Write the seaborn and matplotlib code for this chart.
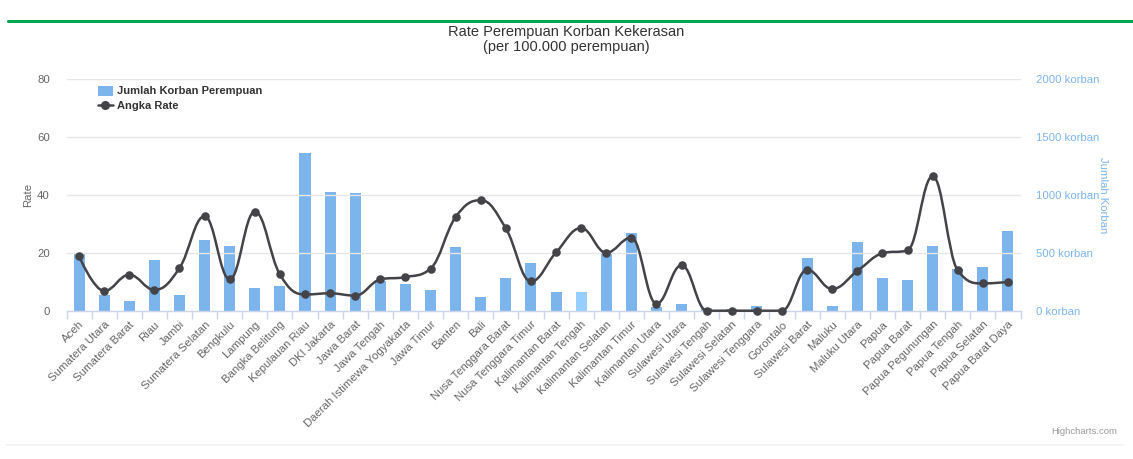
import numpy as np
import pandas as pd
import matplotlib
matplotlib.use("Agg")
import matplotlib.pyplot as plt
from matplotlib.path import Path
from matplotlib.patches import PathPatch
from matplotlib.lines import Line2D
from matplotlib.patches import Patch
import seaborn as sns

provinces = [
    "Aceh", "Sumatera Utara", "Sumatera Barat", "Riau", "Jambi", "Sumatera Selatan",
    "Bengkulu", "Lampung", "Bangka Belitung", "Kepulauan Riau", "DKI Jakarta",
    "Jawa Barat", "Jawa Tengah", "Daerah Istimewa Yogyakarta", "Jawa Timur", "Banten",
    "Bali", "Nusa Tenggara Barat", "Nusa Tenggara Timur", "Kalimantan Barat",
    "Kalimantan Tengah", "Kalimantan Selatan", "Kalimantan Timur", "Kalimantan Utara",
    "Sulawesi Utara", "Sulawesi Tengah", "Sulawesi Selatan", "Sulawesi Tenggara",
    "Gorontalo", "Sulawesi Barat", "Maluku", "Maluku Utara", "Papua", "Papua Barat",
    "Papua Pegunungan", "Papua Tengah", "Papua Selatan", "Papua Barat Daya",
]
jumlah_korban = [
    488, 138, 83, 442, 138, 614, 562, 195, 218, 1360, 1027, 1016, 255, 232, 178, 554,
    121, 287, 410, 166, 166, 508, 669, 32, 63, 22, 18, 43, 4, 453, 43, 597, 284, 267,
    560, 364, 376, 686,
]
angka_rate = [
    18.9, 6.9, 12.5, 7.3, 14.8, 32.7, 10.9, 34.3, 12.6, 5.7, 6.1, 5.3, 10.9, 11.7, 14.6,
    32.4, 38.2, 28.5, 10.2, 20.2, 28.6, 20.1, 25.3, 2.5, 15.8, 0.1, 0.1, 0.1, 0.1, 14.2,
    7.6, 13.8, 19.9, 20.9, 46.5, 14.0, 9.5, 10.0,
]
left_ticks = [0, 20, 40, 60, 80]
right_ticks = [0, 500, 1000, 1500, 2000]

df = pd.DataFrame({"provinsi": provinces, "korban": jumlah_korban, "rate": angka_rate})

sns.set_theme(style="white")
plt.rcParams["font.family"] = ["Liberation Sans", "DejaVu Sans"]

W, H = 1133, 459
fig = plt.figure(figsize=(W / 100, H / 100), dpi=100)
L, R, T, B = 66.5, 1020.5, 79, 311
ax_r = fig.add_axes([L / W, 1 - B / H, (R - L) / W, (B - T) / H])
ax = ax_r.twinx()  # left rate axis drawn on top
ax.yaxis.set_label_position("left")
ax.yaxis.tick_left()
ax_r.yaxis.set_label_position("right")
ax_r.yaxis.tick_right()

bar_color = "#7cb5ec"
hover_color = "#95ceff"
palette = [hover_color if p == "Kalimantan Tengah" else bar_color for p in provinces]
sns.barplot(data=df, x="provinsi", y="korban", hue="provinsi", palette=palette,
            legend=False, width=0.44, ax=ax_r, saturation=1, linewidth=0)

# spline (Highcharts style) through the rate points
xs = np.arange(len(angka_rate), dtype=float)
ys = np.array(angka_rate, dtype=float)
n = len(xs)
lcx, lcy, rcx, rcy = xs.copy(), ys.copy(), xs.copy(), ys.copy()
s = 1.5
d = s + 1
for i in range(1, n - 1):
    px, py = xs[i], ys[i]
    lx, ly = xs[i - 1], ys[i - 1]
    nx, ny = xs[i + 1], ys[i + 1]
    a = (s * px + lx) / d
    b = (s * py + ly) / d
    c = (s * px + nx) / d
    e = (s * py + ny) / d
    corr = (e - b) * (c - px) / (c - a) + py - e
    b += corr
    e += corr
    if b > ly and b > py:
        b = max(ly, py); e = 2 * py - b
    elif b < ly and b < py:
        b = min(ly, py); e = 2 * py - b
    if e > ny and e > py:
        e = max(ny, py); b = 2 * py - e
    elif e < ny and e < py:
        e = min(ny, py); b = 2 * py - e
    lcx[i], lcy[i], rcx[i], rcy[i] = a, b, c, e
verts = [(xs[0], ys[0])]
codes = [Path.MOVETO]
for i in range(1, n):
    verts += [(rcx[i - 1], rcy[i - 1]), (lcx[i], lcy[i]), (xs[i], ys[i])]
    codes += [Path.CURVE4] * 3
line_color = "#434348"
ax.add_patch(PathPatch(Path(verts, codes), facecolor="none", edgecolor=line_color,
                       lw=1.8, zorder=3, clip_on=False))
sns.scatterplot(x=xs, y=ys, ax=ax, color=line_color, s=38, edgecolor=line_color,
                linewidth=0, zorder=4, clip_on=False)

# axes limits & ticks
ax.set_xlim(-0.5, n - 0.5)
ax_r.set_xlim(-0.5, n - 0.5)
ax.set_ylim(0, 80)
ax_r.set_ylim(0, 2000)
ax.set_yticks(left_ticks)
ax.set_yticklabels([str(t) for t in left_ticks])
ax_r.set_yticks(right_ticks)
ax_r.set_yticklabels([f"{t} korban" for t in right_ticks])
ax.tick_params(axis="y", length=0, pad=12, labelsize=8.2, labelcolor="#666666")
ax_r.tick_params(axis="y", length=0, pad=11, labelsize=8.2, labelcolor="#7cb5ec")
for lab in ax_r.get_yticklabels():
    lab.set_horizontalalignment("left")

ax.set_ylabel("Rate", fontsize=8.2, color="#666666", labelpad=3)

ax_r.grid(False)
ax.grid(False)
for t in left_ticks[1:]:
    ax.axhline(t, color="#e6e6e6", lw=1, zorder=0)

# x axis: ticks at boundaries, labels centred & rotated
ax.set_xticks([])
ax_r.set_xticks(xs)
ax_r.set_xticklabels(provinces, rotation=45, ha="right", rotation_mode="anchor",
                     fontsize=8.2, color="#666666")
ax_r.tick_params(axis="x", length=0, pad=6)
ax_r.set_xlabel("")
ax_r.set_ylabel("Jumlah Korban", fontsize=8.2, color="#7cb5ec", rotation=270,
                labelpad=-1, va="bottom")
ax_r.set_xticks(np.arange(-0.5, n, 1.0), minor=True)
ax_r.tick_params(axis="x", which="minor", length=6, width=1, color="#ccd6eb",
                 direction="out", bottom=True)

for a in (ax, ax_r):
    for sp in a.spines.values():
        sp.set_visible(False)
ax_r.spines["bottom"].set_visible(True)
ax_r.spines["bottom"].set_color("#ccd6eb")
ax_r.spines["bottom"].set_linewidth(1)
ax.patch.set_visible(False)

# legend
handles = [
    Patch(facecolor=bar_color, edgecolor="none", label="Jumlah Korban Perempuan"),
    Line2D([0], [0], color=line_color, lw=1.8, marker="o", markersize=5.5,
           label="Angka Rate"),
]
leg = ax.legend(handles=handles, loc="upper left", bbox_to_anchor=(25 / (R - L), 1.0),
                frameon=False, handlelength=1.3, handleheight=1.0,
                handletextpad=0.4, labelspacing=0.35, borderaxespad=0.2,
                prop={"weight": "bold", "size": 8})
for txt in leg.get_texts():
    txt.set_color("#333333")

# title
fig.text(0.5, 1 - 32 / H, "Rate Perempuan Korban Kekerasan", ha="center", va="center",
         fontsize=10.5, color="#333333")
fig.text(0.5, 1 - 47 / H, "(per 100.000 perempuan)", ha="center", va="center",
         fontsize=10.5, color="#333333")

# decorations
fig.add_artist(Line2D([8 / W, 1], [1 - 21 / H, 1 - 21 / H], color="#00a651", lw=2.2))
fig.add_artist(Line2D([6 / W, 1123 / W], [1 - 445 / H, 1 - 445 / H], color="#f2f2f2", lw=1.2))
fig.text(1117 / W, 1 - 432 / H, "Highcharts.com", ha="right", va="center",
         fontsize=6.8, color="#999999")

fig.savefig("out.png", dpi=100)
